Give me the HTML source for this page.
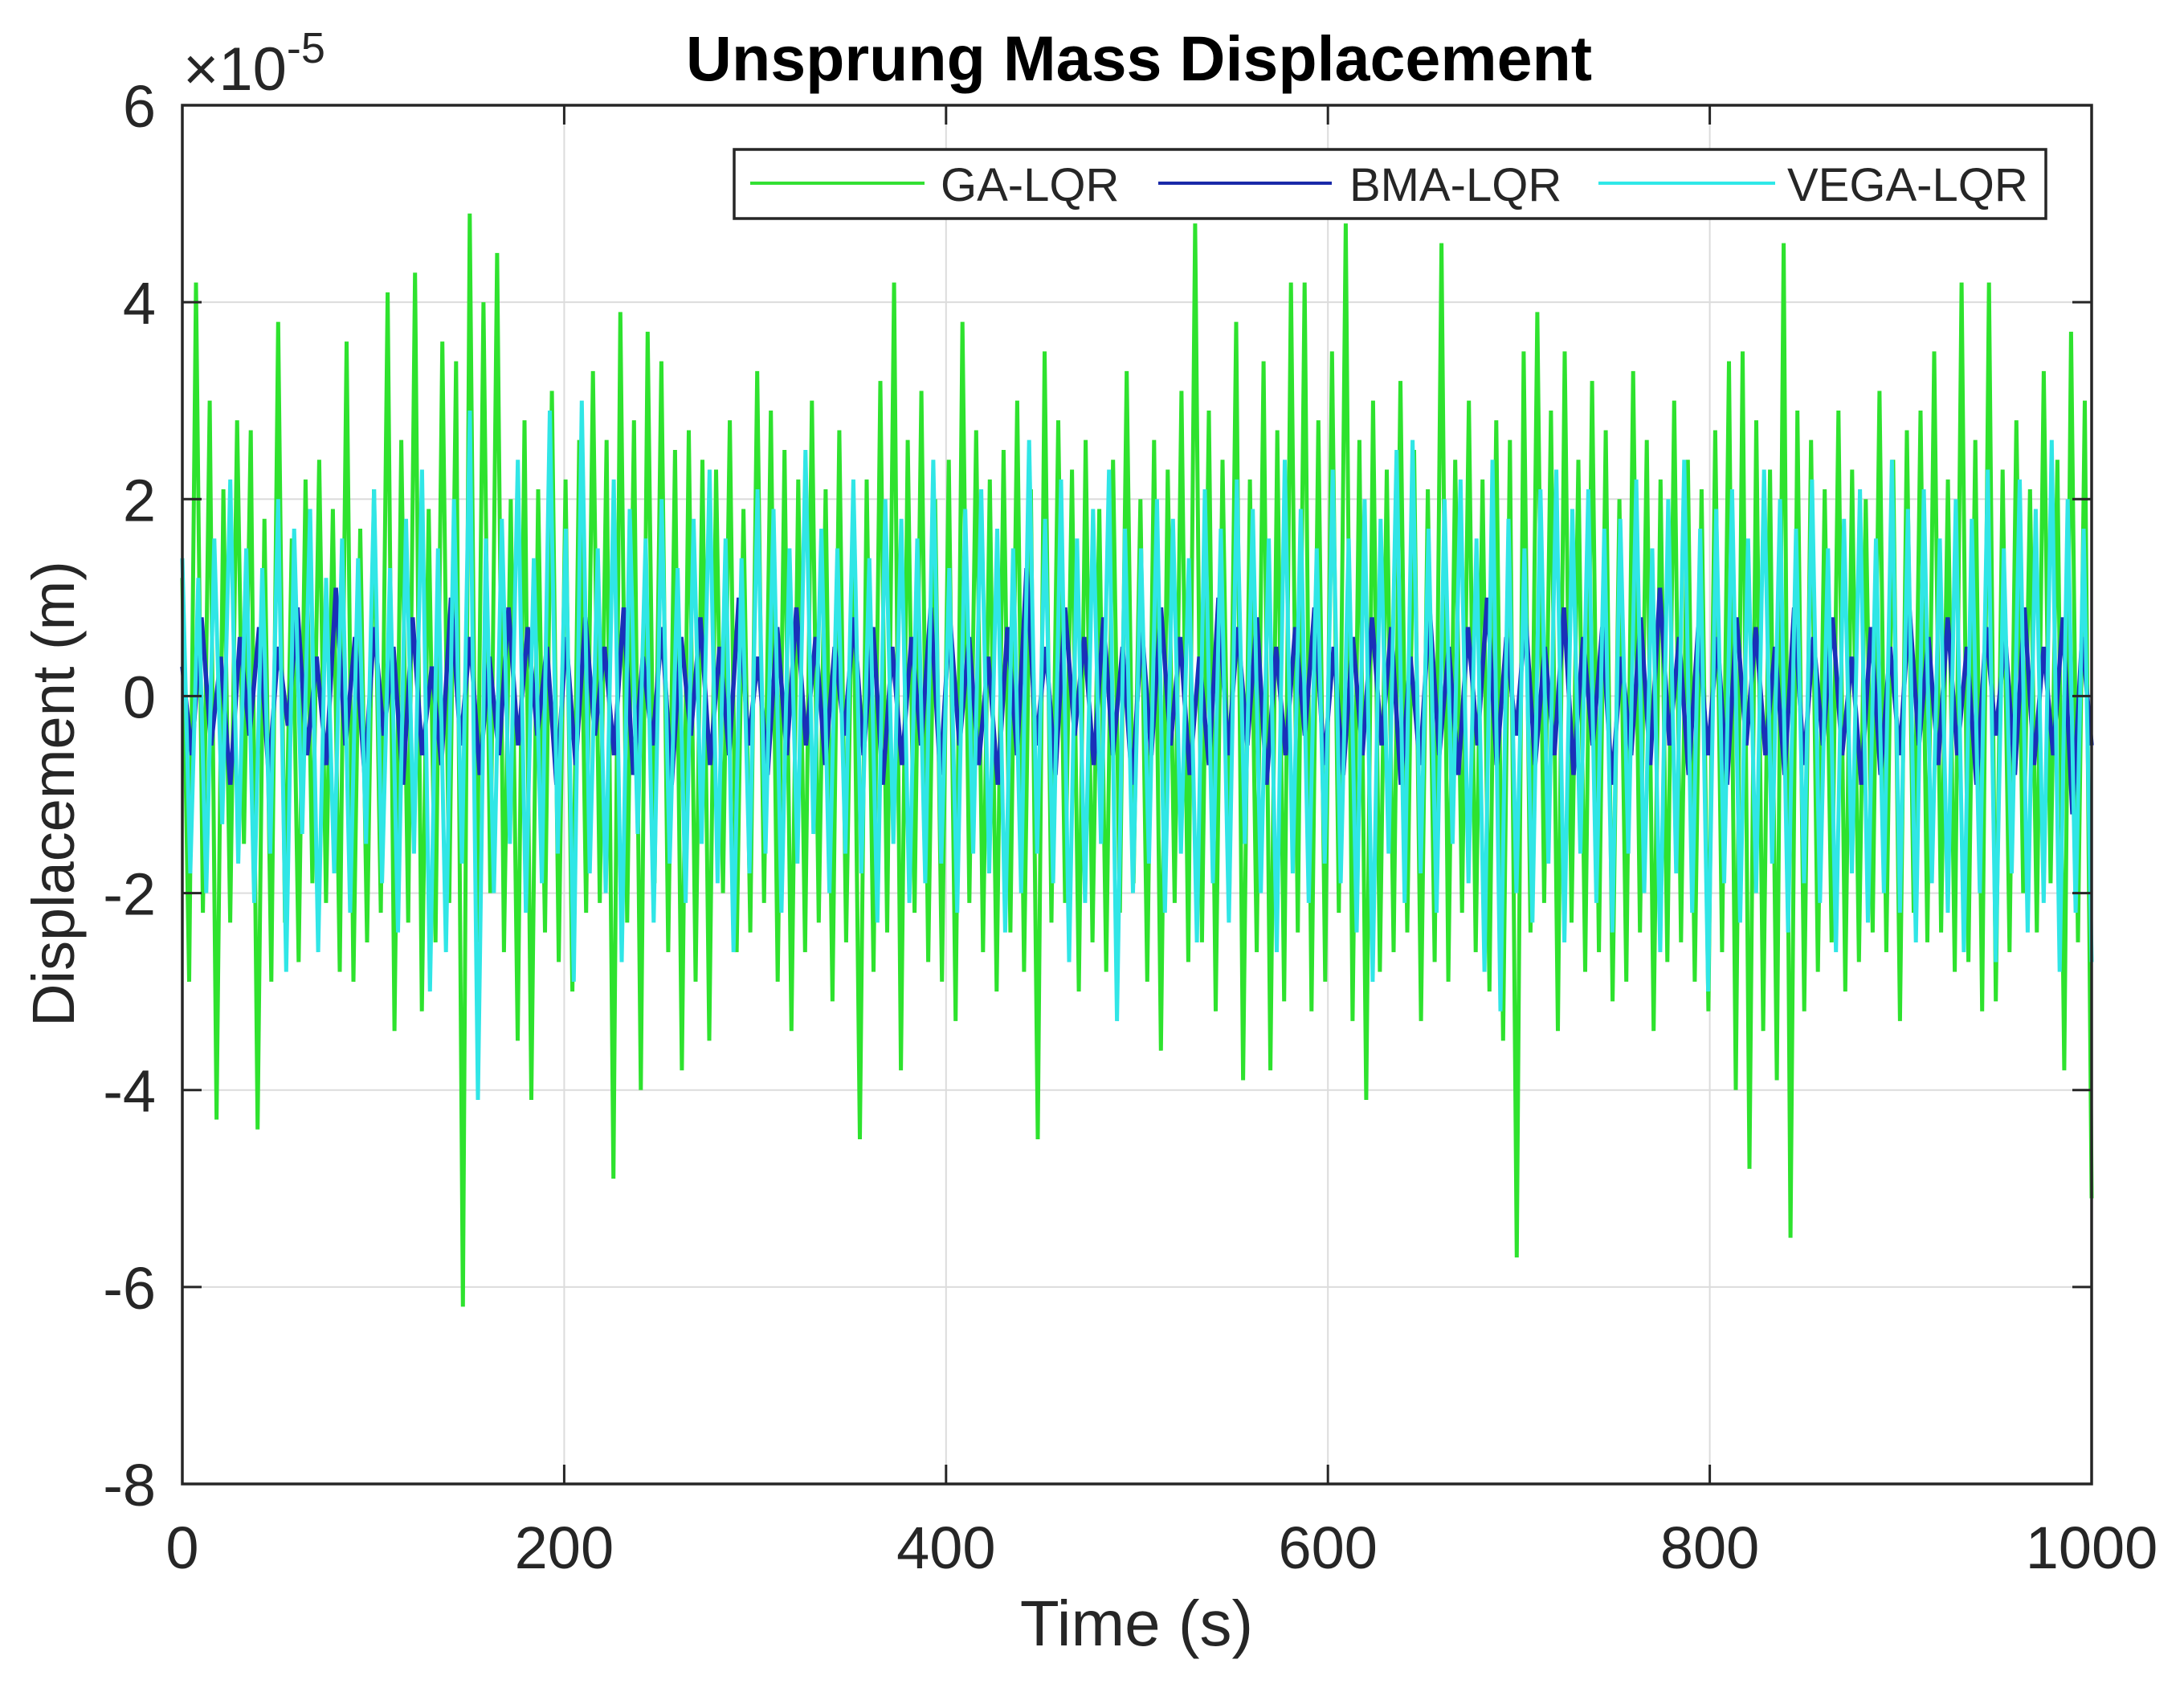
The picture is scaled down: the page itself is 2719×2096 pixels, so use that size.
<!DOCTYPE html>
<html><head><meta charset="utf-8"><style>
html,body{margin:0;padding:0;background:#fff;}
svg{display:block;font-family:"Liberation Sans",sans-serif;}
</style></head><body>
<svg id="chart" width="2719" height="2096" viewBox="0 0 2719 2096" xmlns="http://www.w3.org/2000/svg">
<rect x="0" y="0" width="2719" height="2096" fill="#fff"/>
<g id="grid"></g>
<g id="series"></g>
<rect x="227" y="131" width="2377" height="1716" fill="none" stroke="#262626" stroke-width="3.5"/>
<g id="ticks"></g>
<text x="1418" y="100" font-size="79" font-weight="bold" text-anchor="middle" fill="#000">Unsprung Mass Displacement</text>
<text x="228" y="112" font-size="76" fill="#262626">×10<tspan font-size="54" dy="-34">-5</tspan></text>
<text x="1415" y="2048" font-size="80" text-anchor="middle" fill="#262626">Time (s)</text>
<text transform="translate(92,988) rotate(-90)" font-size="74" text-anchor="middle" fill="#262626">Displacement (m)</text>
<g>
<rect x="914" y="186" width="1633" height="86" fill="#fff" stroke="#262626" stroke-width="3.5"/>
<line x1="934" y1="228" x2="1151" y2="228" stroke="#33e033" stroke-width="4"/>
<text x="1171" y="250" font-size="58" fill="#262626">GA-LQR</text>
<line x1="1442" y1="228" x2="1658" y2="228" stroke="#1a2aa8" stroke-width="4"/>
<text x="1680" y="250" font-size="58" fill="#262626">BMA-LQR</text>
<line x1="1990" y1="228" x2="2210" y2="228" stroke="#30e8e8" stroke-width="4"/>
<text x="2225" y="250" font-size="58" fill="#262626">VEGA-LQR</text>
</g>
</svg>
<script>
const xTicks=[0,200,400,600,800,1000];
const yTicks=[-8,-6,-4,-2,0,2,4,6];
const gaValues=[1.2,-2.9,4.2,-2.2,3.0,-4.3,2.1,-2.3,2.8,-1.5,2.7,-4.4,1.8,-2.9,3.8,-2.3,1.6,-2.7,2.2,-1.9,
2.4,-2.1,1.9,-2.8,3.6,-2.9,1.7,-2.5,2.1,-2.2,4.1,-3.4,2.6,-2.3,4.3,-3.2,1.9,-2.5,3.6,-2.1,
3.4,-6.2,4.9,-2.5,4.0,-2.0,4.5,-2.6,2.0,-3.5,2.8,-4.1,2.1,-2.4,3.1,-2.7,2.2,-3.0,2.6,-2.2,
3.3,-2.1,2.6,-4.9,3.9,-2.3,2.8,-4.0,3.7,-1.9,3.4,-2.6,2.5,-3.8,2.7,-2.9,2.4,-3.5,2.3,-2.0,
2.8,-2.6,1.9,-2.4,3.3,-2.1,2.9,-2.9,2.5,-3.4,2.2,-2.6,3.0,-2.3,2.1,-3.1,2.7,-2.5,1.8,-4.5,
2.2,-2.8,3.2,-2.4,4.2,-3.8,2.6,-2.2,3.1,-2.7,2.0,-2.9,2.4,-3.3,3.8,-2.1,2.7,-2.6,2.2,-3.0,
2.5,-2.4,3.0,-2.8,2.1,-4.5,3.5,-2.3,2.8,-2.1,2.3,-3.0,2.6,-2.5,1.9,-2.8,2.4,-2.2,3.3,-1.9,
2.0,-2.9,2.6,-3.6,2.3,-2.1,3.1,-2.7,4.8,-2.5,2.9,-3.2,2.4,-2.0,3.8,-3.9,2.2,-2.6,3.4,-3.8,
2.7,-3.1,4.2,-2.4,4.2,-3.2,2.8,-2.9,3.5,-2.2,4.8,-3.3,2.6,-4.1,3.0,-2.8,2.3,-2.6,3.2,-2.4,
2.5,-3.3,2.1,-2.7,4.6,-2.9,2.4,-2.2,3.0,-2.6,2.2,-3.0,2.8,-3.5,2.6,-5.7,3.5,-2.4,3.9,-2.1,
2.9,-3.4,3.5,-2.3,2.4,-2.8,3.2,-2.6,2.7,-3.1,2.0,-2.9,3.3,-2.4,2.6,-3.4,2.2,-2.7,3.0,-2.5,
2.4,-2.9,2.1,-3.2,2.7,-2.6,3.4,-4.0,3.5,-4.8,2.8,-3.4,2.3,-3.9,4.6,-5.5,2.9,-3.2,2.6,-2.8,
2.1,-2.5,2.9,-3.0,2.3,-2.7,2.0,-2.4,3.1,-2.6,2.4,-3.3,2.7,-2.2,2.9,-2.5,3.5,-2.4,2.2,-2.8,
4.2,-2.7,2.6,-3.2,4.2,-3.1,2.3,-2.6,2.8,-2.0,2.1,-2.4,3.3,-1.9,2.4,-3.8,3.7,-2.5,3.0,-5.1];
const bmaValues=[0.3,-0.6,0.8,-0.5,0.4,-0.9,0.6,-0.4,0.7,-0.8,0.5,-0.3,0.9,-0.6,0.4,-0.7,1.1,-0.5,0.6,-0.8,
0.7,-0.4,0.5,-0.9,0.8,-0.6,0.3,-0.7,1.0,-0.5,0.6,-0.8,0.4,-0.6,0.9,-0.5,0.7,-0.4,0.5,-0.9,
0.6,-0.7,0.8,-0.4,0.5,-0.6,0.9,-0.8,0.4,-0.5,0.7,-0.9,0.6,-0.4,0.8,-0.7,0.5,-0.6,1.0,-0.5,
0.4,-0.8,0.7,-0.6,0.9,-0.5,0.6,-0.7,0.5,-0.4,0.8,-0.6,0.7,-0.9,0.5,-0.7,0.6,-0.5,0.9,-0.8,
0.8,-0.5,0.6,-0.7,0.4,-0.9,0.7,-0.6,1.3,-0.5,0.5,-0.8,0.9,-0.4,0.6,-0.7,0.8,-0.6,0.5,-0.9,
0.7,-0.6,0.9,-0.5,0.6,-0.8,0.4,-0.7,1.0,-0.6,0.7,-0.5,0.8,-0.9,0.5,-0.6,0.7,-0.4,0.9,-0.7,
0.5,-0.8,0.6,-0.6,0.8,-0.5,0.7,-0.9,0.4,-0.7,0.9,-0.6,0.5,-0.8,0.7,-0.5,1.0,-0.7,0.6,-0.4,
0.8,-0.7,0.5,-0.6,0.9,-0.8,0.6,-0.5,0.7,-0.9,0.4,-0.6,0.8,-0.7,1.1,-0.5,0.6,-0.8,0.7,-0.6,
0.6,-0.9,0.8,-0.5,0.7,-0.6,0.5,-0.8,0.9,-0.7,0.6,-0.5,0.8,-0.6,0.4,-0.9,0.7,-0.8,0.5,-0.6,
0.9,-0.5,0.6,-0.7,0.8,-0.6,0.5,-0.9,0.7,-0.4,0.6,-0.8,0.9,-0.7,0.5,-0.6,0.8,-1.2,0.6,-0.5];
const vegaValues=[1.4,-1.8,1.2,-2.0,1.6,-1.3,2.2,-1.7,1.5,-2.1,1.3,-1.6,2.0,-2.8,1.7,-1.4,1.9,-2.6,1.2,-1.8,
1.6,-2.2,1.4,-1.5,2.1,-1.9,1.3,-2.4,1.8,-1.6,2.3,-3.0,1.5,-2.6,2.0,-1.7,2.9,-4.1,1.6,-2.0,
1.8,-1.5,2.4,-2.2,1.4,-1.9,2.9,-1.6,1.7,-2.9,3.0,-1.8,1.5,-2.0,2.2,-2.7,1.9,-1.4,1.6,-2.3,
2.0,-1.7,1.3,-2.1,1.8,-1.5,2.3,-1.9,1.6,-2.6,1.4,-1.8,2.1,-1.6,1.9,-2.2,1.5,-1.7,2.5,-1.4,
1.7,-2.0,1.5,-1.6,2.2,-1.8,1.4,-2.3,2.0,-1.5,1.8,-2.1,1.6,-1.9,2.4,-1.7,1.3,-2.2,1.9,-1.6,
2.1,-1.8,1.7,-2.4,1.5,-2.0,2.6,-1.6,1.8,-1.9,2.2,-2.7,1.6,-2.1,1.9,-1.5,2.3,-3.3,1.7,-2.0,
1.5,-1.7,2.0,-2.2,1.8,-1.6,1.4,-2.5,2.1,-1.9,1.7,-2.3,2.2,-1.5,1.9,-2.0,1.6,-2.6,2.4,-1.8,
1.9,-2.1,1.5,-1.7,2.3,-1.9,1.6,-2.4,2.0,-2.9,1.8,-1.6,2.5,-2.1,2.6,-1.8,1.7,-2.2,2.0,-1.5,
2.2,-1.9,1.6,-2.8,2.4,-3.2,1.8,-2.0,1.5,-2.3,2.1,-1.7,2.3,-2.5,1.9,-1.6,2.1,-2.1,1.7,-2.4,
1.8,-1.6,2.2,-2.0,1.5,-2.6,2.0,-1.8,2.4,-2.2,1.7,-3.0,1.9,-1.9,2.1,-2.3,1.6,-2.0,2.3,-1.7,
2.0,-2.4,1.7,-1.9,2.2,-2.1,1.5,-2.6,1.8,-1.8,2.1,-2.3,1.6,-2.0,2.4,-2.2,1.9,-2.5,2.1,-1.9,
1.6,-2.2,2.0,-2.6,1.8,-2.0,2.3,-2.7,1.5,-1.8,2.2,-2.4,1.9,-2.1,2.6,-2.8,2.0,-2.2,1.7,-2.7];

const NS='http://www.w3.org/2000/svg';
const X0=227,X1=2604,Y0=1847,Y1=131;
function xs(t){return X0+(t-0)/(1000-0)*(X1-X0);}
function ys(v){return Y0-(v-(-8))/(6-(-8))*(Y0-Y1);}
const grid=document.getElementById('grid'),ticks=document.getElementById('ticks'),ser=document.getElementById('series');
xTicks.forEach(t=>{
  const g=document.createElementNS(NS,'line');
  
  
  g.setAttribute('x1',xs(t));g.setAttribute('x2',xs(t));g.setAttribute('y1',Y1);g.setAttribute('y2',Y0);
  g.setAttribute('stroke','#dcdcdc');g.setAttribute('stroke-width','2');grid.appendChild(g);
  const tk=document.createElementNS(NS,'line');
  
  
  tk.setAttribute('x1',xs(t));tk.setAttribute('x2',xs(t));tk.setAttribute('y1',Y0);tk.setAttribute('y2',Y0-24);
  tk.setAttribute('stroke','#262626');tk.setAttribute('stroke-width','3');ticks.appendChild(tk);
  const tk2=document.createElementNS(NS,'line');
  
  
  tk2.setAttribute('x1',xs(t));tk2.setAttribute('x2',xs(t));tk2.setAttribute('y1',Y1);tk2.setAttribute('y2',Y1+24);
  tk2.setAttribute('stroke','#262626');tk2.setAttribute('stroke-width','3');ticks.appendChild(tk2);
  const l=document.createElementNS(NS,'text');
  
  
  l.setAttribute('x',xs(t));l.setAttribute('y',1952);l.setAttribute('font-size','74');
  l.setAttribute('text-anchor','middle');l.setAttribute('fill','#262626');l.textContent=t;ticks.appendChild(l);
});
yTicks.forEach(v=>{
  const g=document.createElementNS(NS,'line');
  
  
  g.setAttribute('x1',X0);g.setAttribute('x2',X1);g.setAttribute('y1',ys(v));g.setAttribute('y2',ys(v));
  g.setAttribute('stroke','#dcdcdc');g.setAttribute('stroke-width','2');grid.appendChild(g);
  const tk=document.createElementNS(NS,'line');
  
  
  tk.setAttribute('x1',X0);tk.setAttribute('x2',X0+24);tk.setAttribute('y1',ys(v));tk.setAttribute('y2',ys(v));
  tk.setAttribute('stroke','#262626');tk.setAttribute('stroke-width','3');ticks.appendChild(tk);
  const tk2=document.createElementNS(NS,'line');
  
  
  tk2.setAttribute('x1',X1);tk2.setAttribute('x2',X1-24);tk2.setAttribute('y1',ys(v));tk2.setAttribute('y2',ys(v));
  tk2.setAttribute('stroke','#262626');tk2.setAttribute('stroke-width','3');ticks.appendChild(tk2);
  const l=document.createElementNS(NS,'text');
  
  
  l.setAttribute('x',194);l.setAttribute('y',ys(v)+27);l.setAttribute('font-size','74');
  l.setAttribute('text-anchor','end');l.setAttribute('fill','#262626');l.textContent=v;ticks.appendChild(l);
});
function drawSeries(vals,color,name,w){
  const n=vals.length;
  const pts=vals.map((v,i)=>xs(i*1000/(n-1)).toFixed(1)+','+ys(v).toFixed(1)).join(' ');
  const p=document.createElementNS(NS,'polyline');
  
  
  p.setAttribute('points',pts);p.setAttribute('fill','none');p.setAttribute('stroke',color);
  p.setAttribute('stroke-width',w);p.setAttribute('stroke-linejoin','miter');ser.appendChild(p);
}
drawSeries(gaValues,'#2ee22e','series-ga-lqr','5');
drawSeries(bmaValues,'#1a30b8','series-bma-lqr','5.5');
drawSeries(vegaValues,'#30e6e6','series-vega-lqr','5');
</script>
</body></html>
